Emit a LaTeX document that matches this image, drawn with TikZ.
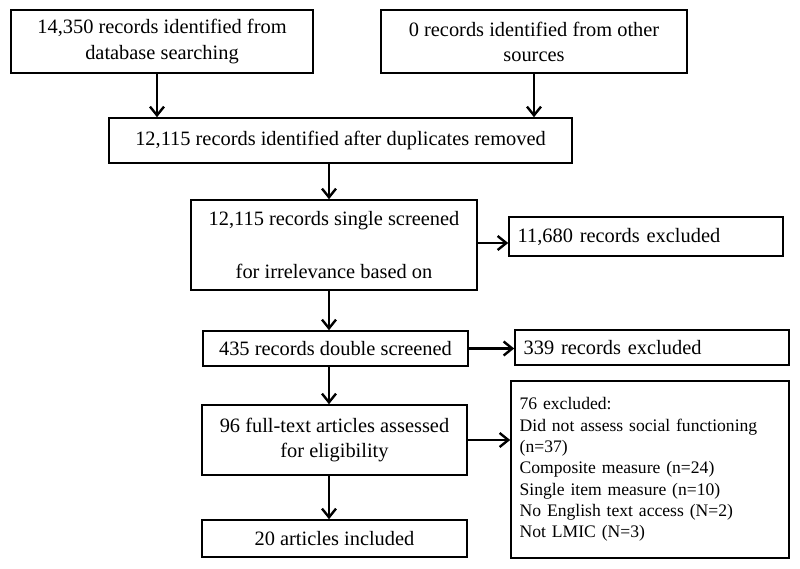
\documentclass[tikz,border=0pt]{standalone}
\usepackage{fontspec}
\setmainfont{Liberation Serif}
\usetikzlibrary{arrows.meta}

\tikzset{
    box/.style={draw, line width=1.2pt, inner sep=0pt, align=center,
        font=\fontsize{15.3}{18.8}\selectfont},
    leftbox/.style={box, inner xsep=6.5pt, align=left},
    arr/.style={line width=1.8pt, -{Straight Barb[length=6.5pt,width=10.5pt,line width=1.8pt]}}
}

\begin{document}
\begin{tikzpicture}[x=0.75pt,y=-0.75pt]
    \useasboundingbox (0,0) rectangle (800,568);

    % Identification
    \node[box, minimum width=226.5pt, minimum height=47.25pt] (db) at (162,41.5)
        {14,350 records identified from\\database searching};
    \node[box, minimum width=229.5pt, minimum height=47.25pt] (other) at (534,41.5)
        {0 records identified from other\\sources};
    \node[box, minimum width=347.25pt, minimum height=33.75pt] (dup) at (340.5,140.5)
        {12,115 records identified after duplicates removed};

    % Screening
    \node[box, minimum width=214.5pt, minimum height=67.5pt] (single) at (334,245)
        {12,115 records single screened\\[21pt]for irrelevance based on};
    \node[leftbox, text width=192.5pt, minimum height=29.25pt] (excl1) at (646,236.5)
        {11,680 records excluded};
    \node[box, minimum width=198.75pt, minimum height=26.25pt] (dbl) at (335.5,348.5)
        {435 records double screened};
    \node[leftbox, text width=192.5pt, minimum height=26.25pt] (excl2) at (652,347.5)
        {339 records excluded};

    % Eligibility and inclusion
    \node[box, minimum width=198.75pt, minimum height=52.5pt] (full) at (334.5,440)
        {96 full-text articles assessed\\for eligibility};
    \node[leftbox, text width=195.5pt, minimum height=132.75pt,
        font=\fontsize{13.2}{16}\selectfont] (excl3) at (650,469.5)
        {76 excluded:\\Did not assess social functioning\\(n=37)\\Composite measure (n=24)\\Single item measure (n=10)\\No English text access (N=2)\\Not LMIC (N=3)\\[2pt]};
    \node[box, minimum width=198.75pt, minimum height=27.75pt] (incl) at (334.5,538.5)
        {20 articles included};

    % Arrows
    \coordinate (spine) at (329,0);
    \draw[arr] ([xshift=-3.75pt]db.south) -- ([xshift=-3.75pt]db.south |- dup.north);
    \draw[arr] (other.south) -- (other.south |- dup.north);
    \draw[arr] (spine |- dup.south) -- (spine |- single.north);
    \draw[arr] ([yshift=1.5pt]single.east) -- ([yshift=1.5pt]single.east -| excl1.west);
    \draw[arr] (spine |- single.south) -- (spine |- dbl.north);
    \draw[arr] (dbl.east) -- (dbl.east -| excl2.west);
    \draw[arr] (spine |- dbl.south) -- (spine |- full.north);
    \draw[arr] (full.east) -- (full.east -| excl3.west);
    \draw[arr] (spine |- full.south) -- (spine |- incl.north);
\end{tikzpicture}
\end{document}
